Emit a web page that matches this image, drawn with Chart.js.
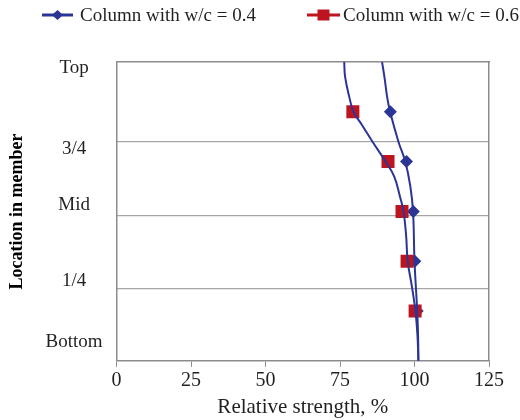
<!DOCTYPE html>
<html>
<head>
<meta charset="utf-8">
<script src="https://cdn.jsdelivr.net/npm/chart.js@4.4.1/dist/chart.umd.min.js"></script>
<style>
  html, body { margin: 0; padding: 0; background: #fff; }
  #wrap { width: 520px; height: 420px; }
</style>
</head>
<body>
<div id="wrap"><canvas id="chart"></canvas></div>
<script>
// vertical position in the member: 0 = bottom edge of plot, 6 = top edge
const markerLevels = [1, 2, 3, 4, 5];
const strengthW04 = [100.9, 100.1, 99.6, 97.3, 91.9];
const strengthW06 = [100.2, 97.5, 95.8, 91.1, 79.3];

// smooth trend curves (both drawn in blue in the original)
const curveLevelsW04 = [0, 0.5, 1, 2, 3, 3.5, 4, 4.4, 5, 5.3, 5.7, 6];
const curveW04 = [101.3, 101.2, 100.9, 100.0, 99.5, 98.6, 96.9, 94.6, 91.8, 90.8, 89.9, 89.1];
const curveLevelsW06 = [0, 0.5, 1, 1.5, 2, 2.5, 3, 3.3, 3.7, 4, 4.4, 4.75, 5, 5.3, 5.7, 6];
const curveW06 = [101.3, 101.0, 100.3, 99.1, 97.7, 97.2, 96.3, 95.1, 93.2, 90.3, 85.9, 82.2, 79.5, 78.1, 76.7, 76.4];

// y axis labels and grid lines
const yLabelLevels = [0.37, 1.61, 3.12, 4.26, 5.87];
const yLabels = ['Bottom', '1/4', 'Mid', '3/4', 'Top'];
const gridLevels = [1.45, 2.92, 4.4];

const navy = '#2B3595';
const red = '#BC1520';
const axisGray = '#8c8c8c';
const textColor = '#231f20';
const serif = "'Liberation Serif', 'Times New Roman', serif";

const toPoints = (xs, ys) => xs.map((v, i) => ({ x: v, y: ys[i] }));

// legend drawn as line + marker, like the original
const lineLegend = {
  id: 'lineLegend',
  afterDraw(chart) {
    const ctx = chart.ctx;
    const items = [
      { ds: 2, x: 42, w: 31, gap: 7, shape: 'diamond' },
      { ds: 3, x: 307, w: 33, gap: 3, shape: 'square' }
    ];
    const y = 15;
    ctx.save();
    items.forEach(it => {
      const ds = chart.data.datasets[it.ds];
      const col = ds.backgroundColor;
      const cx = it.x + it.w / 2;
      ctx.strokeStyle = col;
      ctx.lineWidth = 3;
      ctx.beginPath();
      ctx.moveTo(it.x, y);
      ctx.lineTo(it.x + it.w, y);
      ctx.stroke();
      ctx.fillStyle = col;
      ctx.beginPath();
      if (it.shape === 'diamond') {
        ctx.moveTo(cx - 5.5, y);
        ctx.lineTo(cx, y - 5);
        ctx.lineTo(cx + 5.5, y);
        ctx.lineTo(cx, y + 5);
        ctx.closePath();
      } else {
        ctx.rect(cx - 6, y - 5.5, 12, 11);
      }
      ctx.fill();
      ctx.fillStyle = textColor;
      ctx.font = `19px ${serif}`;
      ctx.textBaseline = 'middle';
      ctx.textAlign = 'left';
      ctx.fillText(ds.label, it.x + it.w + it.gap, y + 1);
    });
    ctx.restore();
  }
};

new Chart(document.getElementById('chart'), {
  type: 'line',
  data: {
    datasets: [
      {
        label: 'trend w/c 0.4',
        data: toPoints(curveW04, curveLevelsW04),
        indexAxis: 'y',
        borderColor: navy,
        borderWidth: 2,
        pointRadius: 0,
        tension: 0.4,
        fill: false,
        order: 0
      },
      {
        label: 'trend w/c 0.6',
        data: toPoints(curveW06, curveLevelsW06),
        indexAxis: 'y',
        borderColor: navy,
        borderWidth: 2,
        pointRadius: 0,
        tension: 0.4,
        fill: false,
        order: 0
      },
      {
        label: 'Column with w/c = 0.4',
        data: toPoints(strengthW04, markerLevels),
        showLine: false,
        pointStyle: 'rectRot',
        pointRadius: 6.5,
        backgroundColor: navy,
        borderColor: navy,
        borderWidth: 0,
        order: 2
      },
      {
        label: 'Column with w/c = 0.6',
        data: toPoints(strengthW06, markerLevels),
        showLine: false,
        pointStyle: 'rect',
        pointRadius: 9.2,
        backgroundColor: red,
        borderColor: red,
        borderWidth: 0,
        order: 1
      }
    ]
  },
  options: {
    responsive: true,
    maintainAspectRatio: false,
    animation: false,
    layout: { padding: { top: 62, left: 5, right: 31, bottom: 0 } },
    plugins: {
      legend: { display: false },
      tooltip: { enabled: false }
    },
    scales: {
      x: {
        type: 'linear',
        position: 'bottom',
        min: 0,
        max: 125,
        ticks: { stepSize: 25, font: { family: serif, size: 20 }, color: textColor, padding: 2 },
        grid: { drawOnChartArea: false, tickLength: 6, color: axisGray },
        border: { color: axisGray, width: 1.5 },
        title: {
          display: true,
          text: 'Relative strength, %',
          font: { family: serif, size: 21 },
          color: textColor,
          padding: { top: 0, bottom: 0 }
        }
      },
      y: {
        type: 'linear',
        position: 'left',
        min: 0,
        max: 6,
        afterBuildTicks: s => { s.ticks = yLabelLevels.map(v => ({ value: v })); },
        ticks: {
          autoSkip: false,
          crossAlign: 'center',
          padding: 14,
          font: { family: serif, size: 19 },
          color: textColor,
          callback: (v, i) => yLabels[i]
        },
        grid: { display: false, drawTicks: false },
        border: { color: axisGray, width: 1.5 },
        title: {
          display: true,
          text: 'Location in member',
          font: { family: serif, size: 18, weight: 'bold' },
          color: '#000',
          padding: { top: 2, bottom: 3 }
        }
      },
      xTop: {
        type: 'linear',
        position: 'top',
        min: 0,
        max: 125,
        ticks: { display: false },
        grid: { display: false, drawTicks: false },
        border: { color: axisGray, width: 1.5 }
      },
      yGrid: {
        type: 'linear',
        position: 'right',
        min: 0,
        max: 6,
        afterBuildTicks: s => { s.ticks = gridLevels.map(v => ({ value: v })); },
        ticks: { display: false },
        grid: { color: '#a6a6a6', lineWidth: 1.2, drawTicks: false },
        border: { color: axisGray, width: 1.5 }
      }
    }
  },
  plugins: [lineLegend]
});
</script>
</body>
</html>
